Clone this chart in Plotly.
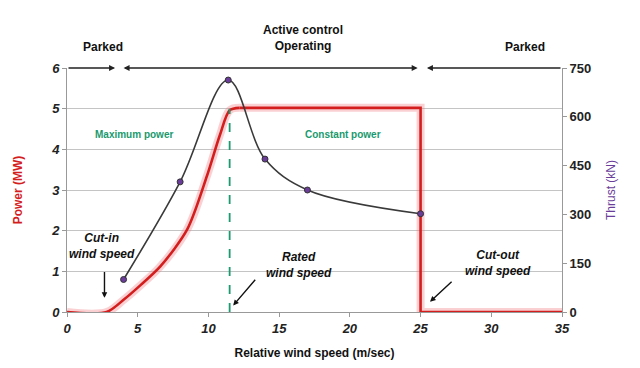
import plotly.graph_objects as go

# ---- data ----
rise_wind = [0, 2.8, 4.0, 5.2, 6.6, 8.5, 9.9, 10.8, 11.5, 12.2]
rise_mw = [0, 0, 0.3, 0.66, 1.12, 2.03, 3.35, 4.34, 4.96, 5.02]
flat_wind = [12.2, 25.0, 25.0, 35.0]
flat_mw = [5.02, 5.02, 0, 0]

thrust_wind = [4.0, 8.0, 11.4, 14.0, 17.0, 25.0]
thrust_kn = [100, 400, 713, 470, 375, 302]

rated_speed = 11.5
rated_power = 5.0
cut_in = 2.65
cut_out = 25.0

x_ticks = [0, 5, 10, 15, 20, 25, 30, 35]
power_ticks = [0, 1, 2, 3, 4, 5, 6]
thrust_ticks = [0, 150, 300, 450, 600, 750]

# regime arrows along the top (wind speeds)
parked_left_end = 3.4
operating_start = 4.0
operating_end = 24.9
parked_right_start = 25.45
x_max = 35

FONT = "Liberation Sans, Arial, sans-serif"
RED = "#d41e1e"
GREEN = "#1a9a6e"
PURPLE = "#6a3d9a"

fig = go.Figure()

for xs, ys, shp in [(rise_wind, rise_mw, "spline"), (flat_wind, flat_mw, "linear")]:
    fig.add_trace(go.Scatter(x=xs, y=ys, mode="lines",
                             line=dict(color="rgba(240,120,130,0.35)", width=8, shape=shp),
                             hoverinfo="skip", showlegend=False))
for xs, ys, shp in [(rise_wind, rise_mw, "spline"), (flat_wind, flat_mw, "linear")]:
    fig.add_trace(go.Scatter(x=xs, y=ys, mode="lines",
                             line=dict(color=RED, width=2.6, shape=shp, smoothing=0.8),
                             showlegend=False))

# rated wind speed dashed line
fig.add_trace(go.Scatter(x=[rated_speed, rated_speed], y=[0, rated_power], mode="lines",
                         line=dict(color=GREEN, width=1.8, dash="dash"), showlegend=False))

# thrust curve
fig.add_trace(go.Scatter(x=thrust_wind, y=thrust_kn, mode="lines+markers", yaxis="y2",
                         line=dict(color="#3a3a3a", width=1.6, shape="spline", smoothing=1.0),
                         marker=dict(color=PURPLE, size=6, line=dict(color="#333333", width=1)),
                         showlegend=False))

bold_it = dict(family=FONT, size=12, color="#111111")
top_font = dict(family=FONT, size=12, color="#111")

annotations = [
    # top regime labels
    dict(x=0.072, y=1.0, xref="paper", yref="paper", xanchor="center", yanchor="bottom", yshift=12,
         text="<b>Parked</b>", showarrow=False, font=top_font),
    dict(x=0.477, y=1.0, xref="paper", yref="paper", xanchor="center", yanchor="bottom", yshift=13,
         text="<b>Active control</b><br><b>Operating</b>", showarrow=False, font=top_font),
    dict(x=0.925, y=1.0, xref="paper", yref="paper", xanchor="center", yanchor="bottom", yshift=12,
         text="<b>Parked</b>", showarrow=False, font=top_font),
    # regime arrows
    dict(x=parked_left_end, y=6, ax=0, ay=6, xref="x", yref="y", axref="x", ayref="y",
         showarrow=True, arrowhead=2, arrowsize=0.8, arrowwidth=1.5, arrowcolor="#222", text=""),
    dict(x=operating_start, y=6, ax=operating_end, ay=6, xref="x", yref="y", axref="x", ayref="y",
         showarrow=True, arrowhead=2, startarrowhead=2, arrowside="end+start", arrowsize=0.8,
         arrowwidth=1.5, arrowcolor="#222", text=""),
    dict(x=parked_right_start, y=6, ax=x_max, ay=6, xref="x", yref="y", axref="x", ayref="y",
         showarrow=True, arrowhead=2, arrowsize=0.8, arrowwidth=1.5, arrowcolor="#222", text=""),
    # region labels
    dict(x=4.75, y=4.36, text="<b>Maximum power</b>", showarrow=False, xanchor="center",
         font=dict(family=FONT, size=10, color=GREEN)),
    dict(x=19.5, y=4.36, text="<b>Constant power</b>", showarrow=False, xanchor="center",
         font=dict(family=FONT, size=10, color=GREEN)),
    # wind speed labels
    dict(x=2.5, y=1.62, text="<b><i>Cut-in</i></b><br><b><i>wind speed</i></b>", showarrow=False,
         xanchor="center", font=bold_it),
    dict(x=cut_in, y=0.35, ax=cut_in, ay=1.02, xref="x", yref="y", axref="x", ayref="y",
         showarrow=True, arrowhead=2, arrowsize=0.8, arrowwidth=1.4, arrowcolor="#111", text=""),
    dict(x=16.4, y=1.16, text="<b><i>Rated</i></b><br><b><i>wind speed</i></b>", showarrow=False,
         xanchor="center", font=bold_it),
    dict(x=11.75, y=0.16, ax=13.4, ay=0.83, xref="x", yref="y", axref="x", ayref="y",
         showarrow=True, arrowhead=2, arrowsize=0.8, arrowwidth=1.4, arrowcolor="#111", text=""),
    dict(x=30.5, y=1.2, text="<b><i>Cut-out</i></b><br><b><i>wind speed</i></b>", showarrow=False,
         xanchor="center", font=bold_it),
    dict(x=25.67, y=0.25, ax=27.3, ay=0.78, xref="x", yref="y", axref="x", ayref="y",
         showarrow=True, arrowhead=2, arrowsize=0.8, arrowwidth=1.4, arrowcolor="#111", text=""),
]

# page body has an 8px default margin, so offsets compensate
fig.update_layout(
    width=640, height=368,
    margin=dict(l=59, r=86, t=60, b=64, autoexpand=False),
    paper_bgcolor="white", plot_bgcolor="white",
    showlegend=False,
    font=dict(family=FONT),
    xaxis=dict(range=[0, 35], tickvals=x_ticks, ticktext=[f"<b><i>{v}</i></b>" for v in x_ticks],
               showgrid=False, zeroline=False, showline=True, linecolor="#999", linewidth=1,
               ticks="outside", ticklen=4, tickcolor="#999", automargin=False,
               tickfont=dict(family=FONT, size=13, color="#222"),
               title=dict(text="<b>Relative wind speed (m/sec)</b>", standoff=14,
                          font=dict(family=FONT, size=12, color="#111"))),
    yaxis=dict(range=[0, 6], tickvals=power_ticks, ticktext=[f"<b><i>{v}</i></b>" for v in power_ticks],
               showgrid=True, gridcolor="#c4c4c4", gridwidth=1, zeroline=False, automargin=False,
               showline=True, linecolor="#999", linewidth=1, ticks="outside", ticklen=4, tickcolor="#999",
               tickfont=dict(family=FONT, size=13, color="#222"),
               title=dict(text="<b>Power (MW)</b>", standoff=25,
                          font=dict(family=FONT, size=12, color=RED))),
    yaxis2=dict(range=[0, 750], tickvals=thrust_ticks, ticktext=[f"<b>{v}</b>" for v in thrust_ticks],
                overlaying="y", side="right", showgrid=False, zeroline=False, automargin=False,
                showline=True, linecolor="#999", linewidth=1, ticks="outside", ticklen=4, tickcolor="#999",
                tickfont=dict(family=FONT, size=13, color="#222"),
                title=dict(text="Thrust (kN)", standoff=16,
                           font=dict(family=FONT, size=12, color=PURPLE))),
    annotations=annotations,
)

fig.write_html("out.html")
